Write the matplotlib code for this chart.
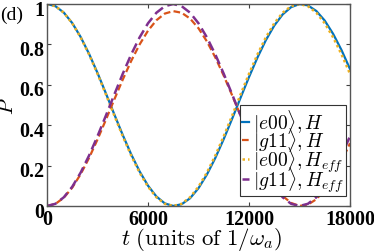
import matplotlib
matplotlib.use("Agg")
import matplotlib.pyplot as plt
import matplotlib.transforms as mtransforms

plt.rcParams['mathtext.fontset'] = 'cm'
plt.rcParams['font.family'] = ['Liberation Serif', 'DejaVu Serif']

t = [i * 500 for i in range(37)]

e00_H = [1.0, 0.9892, 0.9573, 0.9057, 0.8366, 0.7531, 0.6589, 0.5572, 0.4533,
         0.3515, 0.2561, 0.1715, 0.1006, 0.0470, 0.0128, 0.0003, 0.0087, 0.0385,
         0.0882, 0.1558, 0.2380, 0.3317, 0.4324, 0.5362, 0.6384, 0.7346, 0.8208,
         0.8931, 0.9484, 0.9843, 0.9996, 0.9931, 0.9654, 0.9177, 0.8518, 0.7710,
         0.6781]
g11_H = [0.0, 0.0104, 0.0412, 0.0910, 0.1577, 0.2383, 0.3292, 0.4273, 0.5276,
         0.6258, 0.7179, 0.7995, 0.8679, 0.9196, 0.9526, 0.9647, 0.9566, 0.9278,
         0.8799, 0.8147, 0.7353, 0.6449, 0.5477, 0.4476, 0.3489, 0.2561, 0.1729,
         0.1032, 0.0498, 0.0152, 0.0004, 0.0067, 0.0334, 0.0794, 0.1430, 0.2210,
         0.3106]
e00_Heff = [1.0, 0.9891, 0.9568, 0.9045, 0.8346, 0.75, 0.6545, 0.5523, 0.4477,
            0.3455, 0.25, 0.1654, 0.0955, 0.0432, 0.0109, 0.0, 0.0109, 0.0432,
            0.0955, 0.1654, 0.25, 0.3455, 0.4477, 0.5523, 0.6545, 0.75, 0.8346,
            0.9045, 0.9568, 0.9891, 1.0, 0.9891, 0.9568, 0.9045, 0.8346, 0.75,
            0.6545]
g11_Heff = [0.0, 0.0109, 0.0432, 0.0955, 0.1654, 0.25, 0.3455, 0.4477, 0.5523,
            0.6545, 0.75, 0.8346, 0.9045, 0.9568, 0.9891, 1.0, 0.9891, 0.9568,
            0.9045, 0.8346, 0.75, 0.6545, 0.5523, 0.4477, 0.3455, 0.25, 0.1654,
            0.0955, 0.0432, 0.0109, 0.0, 0.0109, 0.0432, 0.0955, 0.1654, 0.25,
            0.3455]

labels = [r'$|e00\rangle, H$', r'$|g11\rangle, H$',
          r'$|e00\rangle, H_{eff}$', r'$|g11\rangle, H_{eff}$']
xticks = [0, 6000, 12000, 18000]
yticks = [0, 0.2, 0.4, 0.6, 0.8, 1]
ytick_labels = ['0', '0.2', '0.4', '0.6', '0.8', '1']

fig = plt.figure(figsize=(3.74, 2.53), dpi=100)
ax = fig.add_axes([47/374, 1 - 207/253, 303/374, 202/253])

ax.plot(t, e00_H, color='#0072BD', lw=1.6, label=labels[0])
ax.plot(t, g11_H, color='#D95319', lw=1.6, ls=(0, (3, 1.5)), label=labels[1])
ax.plot(t, e00_Heff, color='#EDB120', lw=1.8, ls=(0, (1, 1.2)), label=labels[2])
ax.plot(t, g11_Heff, color='#7E2F8E', lw=1.8, ls=(0, (4, 2)), label=labels[3])

ax.set_xlim(0, 18000)
ax.set_ylim(0, 1)
ax.set_xticks(xticks)
ax.set_xticklabels([str(v) for v in xticks])
ax.set_yticks(yticks)
ax.set_yticklabels(ytick_labels)
ax.tick_params(direction='in', length=3, width=0.8, colors='#404040',
               top=True, right=True, labelcolor='black')
ax.tick_params(axis='x', pad=2)
ax.tick_params(axis='y', pad=2)
for s in ax.spines.values():
    s.set_color('#555555')
    s.set_linewidth(1.0)

shift = mtransforms.ScaledTranslation(0, -3/100, fig.dpi_scale_trans)
for lab in ax.get_xticklabels() + ax.get_yticklabels():
    lab.set_fontweight('bold')
    lab.set_fontsize(14.5)
for lab in ax.get_yticklabels():
    lab.set_transform(lab.get_transform() + shift)

ax.set_ylabel(r'$P$', fontsize=15)
ax.yaxis.set_label_coords(-0.095, 0.5)
ax.set_xlabel(r'$t\ (\mathrm{units\ of\ }1/\omega_a)$', fontsize=16.5)
ax.xaxis.set_label_coords(0.51, -0.095)

leg = ax.legend(loc='lower right', bbox_to_anchor=(0.987, 0.05), fontsize=14,
                handlelength=0.4, handletextpad=0.2, borderpad=0.1,
                labelspacing=-0.5, borderaxespad=0.0, fancybox=False,
                framealpha=1)
leg.get_frame().set_edgecolor('#333333')
leg.get_frame().set_linewidth(0.8)

fig.text(0.0, 1 - 15/253, '(d)', fontsize=14, va='center', ha='left')

fig.savefig('out.png', dpi=100)
